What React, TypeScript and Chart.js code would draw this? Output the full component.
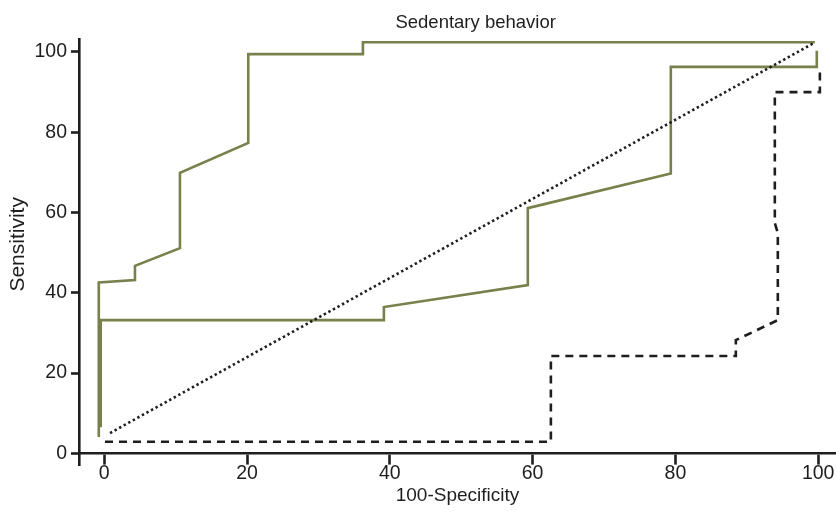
import React, { useEffect, useRef } from 'react';
import { Chart, registerables } from 'chart.js';

Chart.register(...registerables);

const chartTitle = 'Sedentary behavior';
const xAxisTitle = '100-Specificity';
const yAxisTitle = 'Sensitivity';
const xTickValues = [0, 20, 40, 60, 80, 100];
const yTickValues = [0, 20, 40, 60, 80, 100];

// Upper solid ROC curve
const curveAX = [-0.77, -0.77, 4.3, 4.3, 10.6, 10.6, 20.17, 20.17, 36.23, 36.23, 99.54];
const curveAY = [4.06, 42.58, 43.15, 46.71, 51.12, 69.87, 77.34, 99.43, 99.43, 102.4, 102.4];

// Lower solid ROC curve
const curveBX = [-0.5, -0.5, 39.17, 39.17, 59.33, 59.33, 79.36, 79.36, 99.81, 99.81];
const curveBY = [6.5, 33.19, 33.19, 36.43, 41.9, 61.08, 69.72, 96.26, 96.26, 100.25];

// Dashed ROC curve
const curveCX = [0.1, 62.56, 62.56, 88.47, 88.47, 94.35, 94.35, 93.93, 93.93, 100.24, 100.24];
const curveCY = [2.9, 2.9, 24.23, 24.23, 28.21, 33.19, 54.85, 57.34, 89.96, 89.96, 94.94];

// Reference (chance) line
const refX = [0.81, 99.3];
const refY = [5.06, 102.1];

const FONT = '"Liberation Sans", Arial, sans-serif';
const GREEN = '#76814b';
const INK = '#1e1e1e';

const toPoints = (xs: number[], ys: number[]) => xs.map((x, i) => ({ x, y: ys[i] }));

const titlePlugin = {
  id: 'customTitles',
  afterDraw(chart: any) {
    const { ctx, chartArea } = chart;
    ctx.save();
    ctx.fillStyle = INK;
    ctx.textAlign = 'center';
    ctx.textBaseline = 'middle';
    ctx.font = `18.5px ${FONT}`;
    ctx.fillText(chartTitle, chartArea.left + chartArea.width * 0.524, chartArea.top - 16.5);
    ctx.translate(18, chartArea.top + chartArea.height * 0.482);
    ctx.rotate(-Math.PI / 2);
    ctx.font = `21px ${FONT}`;
    ctx.fillText(yAxisTitle, 0, 0);
    ctx.restore();
  },
};

export default function App() {
  const canvasRef = useRef<HTMLCanvasElement | null>(null);

  useEffect(() => {
    document.body.style.margin = '0';
    const canvas = canvasRef.current;
    if (!canvas) return;
    const chart = new Chart(canvas, {
      type: 'line',
      data: {
        datasets: [
          {
            data: toPoints(refX, refY),
            borderColor: INK,
            borderWidth: 2.6,
            borderDash: [2.4, 2.8],
            pointRadius: 0,
            fill: false,
          },
          {
            data: toPoints(curveCX, curveCY),
            borderColor: INK,
            borderWidth: 2.6,
            borderDash: [8, 6],
            pointRadius: 0,
            fill: false,
          },
          {
            data: toPoints(curveBX, curveBY),
            borderColor: GREEN,
            borderWidth: 2.6,
            pointRadius: 0,
            fill: false,
          },
          {
            data: toPoints(curveAX, curveAY),
            borderColor: GREEN,
            borderWidth: 2.6,
            pointRadius: 0,
            fill: false,
          },
        ],
      },
      options: {
        responsive: false,
        animation: false,
        layout: { padding: { top: 39, right: 0, left: 0, bottom: 48 } },
        plugins: {
          legend: { display: false },
          title: { display: false },
          tooltip: { enabled: false },
        },
        elements: { line: { tension: 0 } },
        scales: {
          x: {
            type: 'linear',
            min: -3.54,
            max: 102.5,
            position: { y: 0 },
            afterBuildTicks: (scale: any) => {
              scale.ticks = xTickValues.map((v) => ({ value: v }));
            },
            afterFit: (scale: any) => {
              scale.height = 48;
            },
            grid: {
              display: true,
              drawOnChartArea: false,
              drawTicks: true,
              tickLength: 10,
              tickWidth: 2.6,
              tickColor: INK,
            },
            border: { display: true, color: INK, width: 2.6 },
            ticks: {
              color: INK,
              padding: 1,
              font: { family: FONT, size: 19.5, lineHeight: 1 },
            },
            title: {
              display: true,
              text: xAxisTitle,
              color: INK,
              padding: { top: 0, bottom: 0 },
              font: { family: FONT, size: 19, lineHeight: 0.6 },
            },
          },
          y: {
            type: 'linear',
            min: -2.9,
            max: 103.2,
            afterBuildTicks: (scale: any) => {
              scale.ticks = yTickValues.map((v) => ({ value: v }));
            },
            afterFit: (scale: any) => {
              scale.width = 79;
            },
            grid: {
              display: true,
              drawOnChartArea: false,
              drawTicks: true,
              tickLength: 8,
              tickWidth: 2.6,
              tickColor: INK,
            },
            border: { display: true, color: INK, width: 2.6 },
            ticks: {
              color: INK,
              padding: 4,
              font: { family: FONT, size: 19.5, lineHeight: 1 },
            },
            title: { display: false },
          },
        },
      },
      plugins: [titlePlugin],
    });
    return () => chart.destroy();
  }, []);

  return (
    <div style={{ width: 836, height: 513 }}>
      <canvas ref={canvasRef} width={836} height={513} style={{ display: 'block' }} />
    </div>
  );
}
